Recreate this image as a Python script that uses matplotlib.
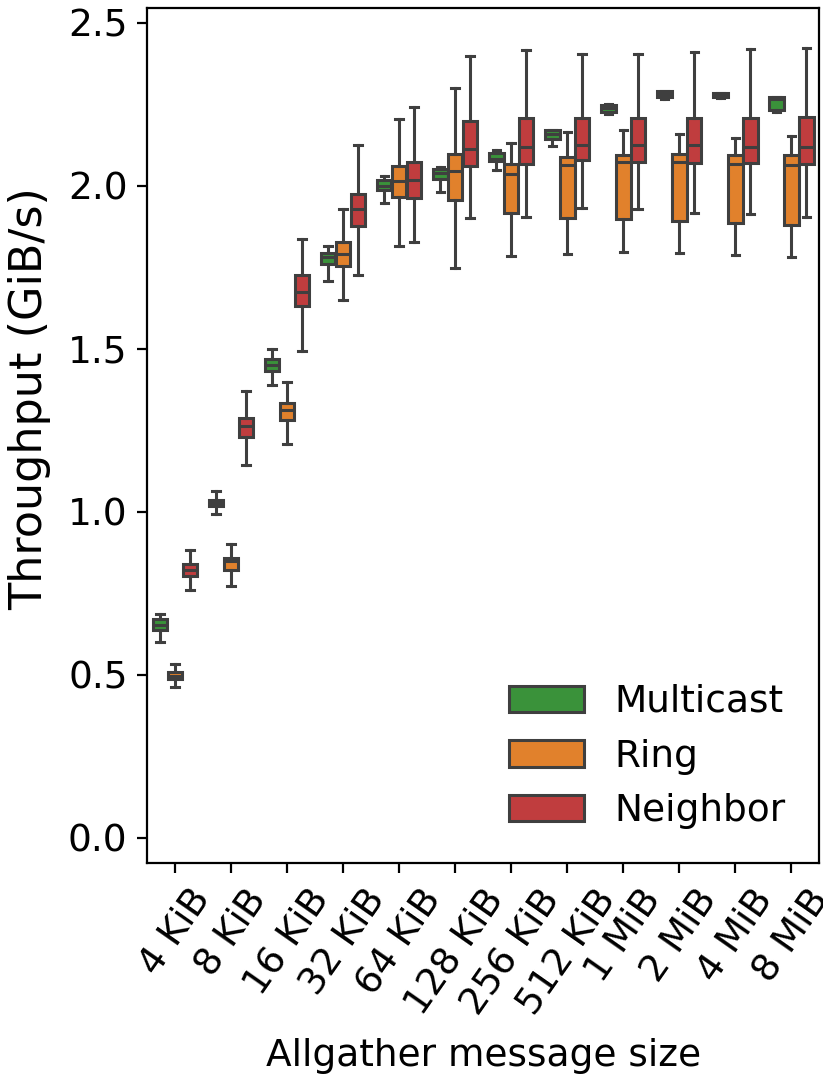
import numpy as np
import matplotlib
matplotlib.use("Agg")
import matplotlib.pyplot as plt
from matplotlib.patches import Patch

sizes = ["4 KiB", "8 KiB", "16 KiB", "32 KiB", "64 KiB", "128 KiB",
         "256 KiB", "512 KiB", "1 MiB", "2 MiB", "4 MiB", "8 MiB"]
methods = ["Multicast", "Ring", "Neighbor"]

# box stats: whisker low, q1, median, q3, whisker high
multicast_lo = [0.602, 0.994, 1.388, 1.707, 1.946, 1.981, 2.047, 2.123, 2.220, 2.266, 2.270, 2.225]
multicast_q1 = [0.638, 1.018, 1.432, 1.759, 1.988, 2.022, 2.075, 2.142, 2.227, 2.271, 2.271, 2.231]
multicast_med = [0.653, 1.028, 1.450, 1.781, 1.999, 2.040, 2.083, 2.157, 2.237, 2.280, 2.277, 2.265]
multicast_q3 = [0.670, 1.037, 1.468, 1.795, 2.016, 2.050, 2.100, 2.170, 2.247, 2.289, 2.283, 2.271]
multicast_hi = [0.687, 1.065, 1.500, 1.815, 2.031, 2.058, 2.108, 2.172, 2.249, 2.291, 2.284, 2.272]

ring_lo = [0.463, 0.773, 1.207, 1.649, 1.815, 1.749, 1.785, 1.789, 1.797, 1.794, 1.788, 1.781]
ring_q1 = [0.487, 0.822, 1.281, 1.754, 1.964, 1.957, 1.915, 1.901, 1.898, 1.893, 1.885, 1.878]
ring_med = [0.497, 0.849, 1.312, 1.789, 2.015, 2.044, 2.037, 2.062, 2.072, 2.074, 2.067, 2.062]
ring_q3 = [0.510, 0.859, 1.335, 1.828, 2.060, 2.098, 2.067, 2.089, 2.094, 2.097, 2.094, 2.094]
ring_hi = [0.532, 0.902, 1.398, 1.930, 2.205, 2.300, 2.132, 2.166, 2.171, 2.158, 2.145, 2.152]

neighbor_lo = [0.760, 1.144, 1.493, 1.727, 1.827, 1.902, 1.905, 1.932, 1.929, 1.917, 1.912, 1.904]
neighbor_q1 = [0.803, 1.230, 1.630, 1.875, 1.962, 2.060, 2.068, 2.079, 2.074, 2.070, 2.069, 2.067]
neighbor_med = [0.822, 1.264, 1.675, 1.927, 2.017, 2.113, 2.120, 2.126, 2.126, 2.125, 2.120, 2.120]
neighbor_q3 = [0.840, 1.288, 1.725, 1.976, 2.073, 2.197, 2.208, 2.208, 2.208, 2.208, 2.208, 2.210]
neighbor_hi = [0.883, 1.369, 1.838, 2.124, 2.240, 2.399, 2.416, 2.404, 2.404, 2.411, 2.419, 2.422]

colors = ["#3a923a", "#e1812c", "#c03d3e"]
edge = "#3f3f3f"

all_stats = [
    (multicast_lo, multicast_q1, multicast_med, multicast_q3, multicast_hi),
    (ring_lo, ring_q1, ring_med, ring_q3, ring_hi),
    (neighbor_lo, neighbor_q1, neighbor_med, neighbor_q3, neighbor_hi),
]

plt.rcParams["font.size"] = 13.5
fig = plt.figure(figsize=(823 / 200, 1075 / 200), dpi=200)
ax = fig.add_axes([0.1786, 0.1972, 0.8169, 0.7954])

n = len(methods)
w = 0.8 / n
x = np.arange(len(sizes))
for i, (lo, q1, med, q3, hi) in enumerate(all_stats):
    stats = [dict(whislo=a, q1=b, med=c, q3=d, whishi=e, fliers=[])
             for a, b, c, d, e in zip(lo, q1, med, q3, hi)]
    pos = x - 0.4 + w / 2 + i * w
    ax.bxp(stats, positions=pos, widths=w * 0.98, capwidths=w * 0.49,
           patch_artist=True, showfliers=False, manage_ticks=False,
           boxprops=dict(facecolor=colors[i], edgecolor=edge, linewidth=1.1),
           medianprops=dict(color=edge, linewidth=1.1),
           whiskerprops=dict(color=edge, linewidth=1.1),
           capprops=dict(color=edge, linewidth=1.1))

ax.set_xlim(-0.5, len(sizes) - 0.5)
ax.set_ylim(-0.077, 2.545)
ax.set_xticks(x)
ax.set_xticklabels(sizes, rotation=55)
ax.set_yticks([0.0, 0.5, 1.0, 1.5, 2.0, 2.5])
ax.set_xlabel("Allgather message size", labelpad=6)
ax.set_ylabel("Throughput (GiB/s)", fontsize=16)
ax.yaxis.set_label_coords(-0.143, 0.543)

handles = [Patch(facecolor=c, edgecolor=edge, linewidth=1.1) for c in colors]
ax.legend(handles, methods, loc="lower right", frameon=False, handlelength=2.0)

fig.savefig("out.png", dpi=200)
